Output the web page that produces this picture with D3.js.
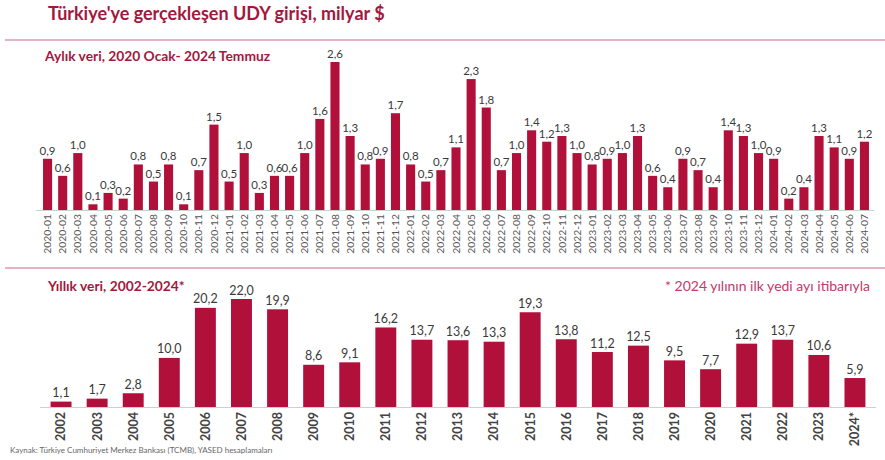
<!DOCTYPE html>
<html><head><meta charset="utf-8">
<script src="https://cdn.jsdelivr.net/npm/d3@7"></script>
<style>
html,body{margin:0;padding:0;background:#fff;}
svg{display:block;font-family:Lato, "Open Sans", sans-serif;}
</style></head>
<body><svg id="c" width="885" height="460"></svg>
<script>
const title = "Türkiye'ye gerçekleşen UDY girişi, milyar $";
const monthlySubtitle = "Aylık veri, 2020 Ocak- 2024 Temmuz";
const annualSubtitle = "Yıllık veri, 2002-2024*";
const footnote = "* 2024 yılının ilk yedi ayı itibarıyla";
const source = "Kaynak: Türkiye Cumhuriyet Merkez Bankası (TCMB), YASED hesaplamaları";

const months = ["2020-01","2020-02","2020-03","2020-04","2020-05","2020-06","2020-07","2020-08","2020-09","2020-10","2020-11","2020-12",
"2021-01","2021-02","2021-03","2021-04","2021-05","2021-06","2021-07","2021-08","2021-09","2021-10","2021-11","2021-12",
"2022-01","2022-02","2022-03","2022-04","2022-05","2022-06","2022-07","2022-08","2022-09","2022-10","2022-11","2022-12",
"2023-01","2023-02","2023-03","2023-04","2023-05","2023-06","2023-07","2023-08","2023-09","2023-10","2023-11","2023-12",
"2024-01","2024-02","2024-03","2024-04","2024-05","2024-06","2024-07"];
const monthlyValues = [0.9,0.6,1.0,0.1,0.3,0.2,0.8,0.5,0.8,0.1,0.7,1.5,
0.5,1.0,0.3,0.6,0.6,1.0,1.6,2.6,1.3,0.8,0.9,1.7,
0.8,0.5,0.7,1.1,2.3,1.8,0.7,1.0,1.4,1.2,1.3,1.0,
0.8,0.9,1.0,1.3,0.6,0.4,0.9,0.7,0.4,1.4,1.3,1.0,
0.9,0.2,0.4,1.3,1.1,0.9,1.2];

const years = ["2002","2003","2004","2005","2006","2007","2008","2009","2010","2011","2012","2013","2014","2015","2016","2017","2018","2019","2020","2021","2022","2023","2024*"];
const annualValues = [1.1,1.7,2.8,10.0,20.2,22.0,19.9,8.6,9.1,16.2,13.7,13.6,13.3,19.3,13.8,11.2,12.5,9.5,7.7,12.9,13.7,10.6,5.9];

const barColor = "#b0103a";
const titleColor = "#a3173e";
const lineColor = "#e6b3c0";
const fmt = v => d3.format(".1f")(v).replace(".", ",");

const svg = d3.select("#c");

// Title
svg.append("text").attr("x",48).attr("y",20).attr("font-size",18).attr("font-weight","bold")
  .attr("fill",titleColor).text(title);
svg.append("line").attr("x1",5).attr("x2",885).attr("y1",40).attr("y2",40)
  .attr("stroke",lineColor).attr("stroke-width",2);
svg.append("line").attr("x1",5).attr("x2",885).attr("y1",268).attr("y2",268)
  .attr("stroke",lineColor).attr("stroke-width",2);

// Monthly
svg.append("text").attr("x",45).attr("y",61).attr("font-size",13.8).attr("font-weight","bold")
  .attr("fill",titleColor).text(monthlySubtitle);

const xm = d3.scaleBand().domain(months).range([40,872]).paddingInner(0.4).paddingOuter(0.2);
const ym = d3.scaleLinear().domain([0,2.6]).range([210,62]);

const gm = svg.append("g");
gm.selectAll("rect").data(monthlyValues).join("rect")
  .attr("x",(d,i)=>xm(months[i])).attr("width",xm.bandwidth())
  .attr("y",d=>ym(d)).attr("height",d=>ym(0)-ym(d)).attr("fill",barColor);
gm.selectAll("text.lbl").data(monthlyValues).join("text").attr("class","lbl")
  .attr("x",(d,i)=>xm(months[i])+xm.bandwidth()/2).attr("y",d=>ym(d)-4)
  .attr("text-anchor","middle").attr("font-size",11.5).attr("fill","#3a3a3a").text(fmt);

const axm = svg.append("g").attr("transform","translate(0,210)")
  .call(d3.axisBottom(xm).tickSize(0).tickPadding(0));
axm.select(".domain").attr("stroke","#cfcfcf").attr("d","M36,0.5H874");
axm.selectAll("text").attr("transform","rotate(-90)").attr("text-anchor","end")
  .attr("x",-4).attr("y",0).attr("dy","0.35em").attr("font-size",10.3)
  .attr("font-family","Lato, 'Open Sans', sans-serif").attr("fill","#555");

// Annual
svg.append("text").attr("x",48).attr("y",291).attr("font-size",13.8).attr("font-weight","bold")
  .attr("fill",titleColor).text(annualSubtitle);
svg.append("text").attr("x",870).attr("y",291).attr("text-anchor","end").attr("font-size",14)
  .attr("fill","#c4386a").text(footnote);

const xa = d3.scaleBand().domain(years).range([43,873]).paddingInner(0.42).paddingOuter(0.21);
const ya = d3.scaleLinear().domain([0,22]).range([407,299]);

const ga = svg.append("g");
ga.selectAll("rect").data(annualValues).join("rect")
  .attr("x",(d,i)=>xa(years[i])).attr("width",xa.bandwidth())
  .attr("y",d=>ya(d)).attr("height",d=>ya(0)-ya(d)).attr("fill",barColor);
ga.selectAll("text.lbl").data(annualValues).join("text").attr("class","lbl")
  .attr("x",(d,i)=>xa(years[i])+xa.bandwidth()/2).attr("y",d=>ya(d)-4.5)
  .attr("text-anchor","middle").attr("font-size",12.5).attr("fill","#3a3a3a").text(fmt);

const axa = svg.append("g").attr("transform","translate(0,407)")
  .call(d3.axisBottom(xa).tickSize(0).tickPadding(0));
axa.select(".domain").attr("stroke","#cfcfcf").attr("d","M40,0.5H876");
axa.selectAll("text").attr("transform","rotate(-90)").attr("text-anchor","end")
  .attr("x",-5).attr("y",0).attr("dy","0.35em").attr("font-size",12.5).attr("font-weight","bold")
  .attr("font-family","Lato, 'Open Sans', sans-serif").attr("fill","#444");

svg.append("text").attr("x",10).attr("y",453).attr("font-size",8).attr("fill","#666").text(source);
</script></body></html>
